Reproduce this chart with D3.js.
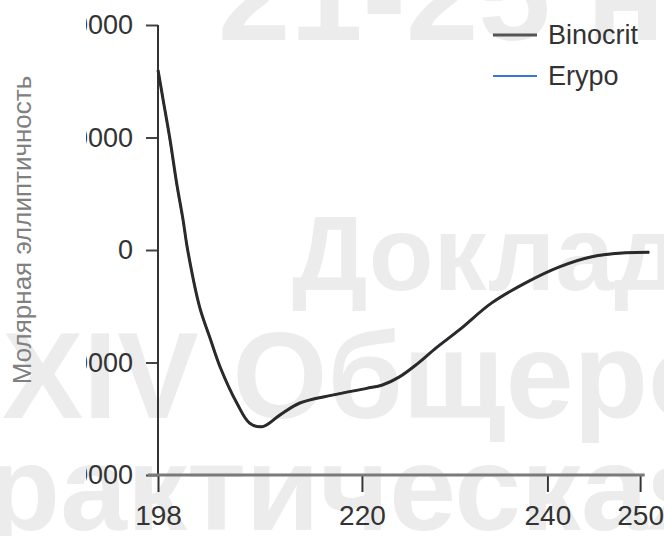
<!DOCTYPE html>
<html>
<head>
<meta charset="utf-8">
<script src="https://cdn.jsdelivr.net/npm/d3@7"></script>
<style>
  body { margin: 0; background: #fff; }
  svg { display: block; font-family: "Liberation Sans", Arial, sans-serif; }
</style>
</head>
<body>
<div id="chart"></div>
<script>
// wavelength (nm)
let wavelengths = [198, 198.5, 199.3, 200, 200.7, 201.2, 202.5, 203.6, 204.7, 206.5, 207.9, 209.3,
                   211.1, 213.3, 216.8, 220.5, 222.2, 224, 226, 228, 230.5, 234, 237.7, 241.3, 244.8, 248.5, 251];
// molar ellipticity, the two curves overlap almost everywhere
let binocrit = [16000, 13600, 9800, 6000, 2700, 0, -5100, -7800, -10400, -13600, -15400, -15700,
                -14700, -13600, -12900, -12300, -12000, -11300, -10100, -8700, -7100, -4700, -2900, -1500, -600, -250, -200];
let erypo    = [16000, 13600, 9700, 5900, 2600, 0, -5100, -7800, -10400, -13600, -15400, -15700,
                -14700, -13600, -12900, -12300, -12000, -11300, -10100, -8700, -7100, -4700, -2900, -1500, -600, -250, -200];

let xTicks = [198, 220, 240, 250];
let yTicks = [-20000, -10000, 0, 10000, 20000];
let seriesNames = ["Binocrit", "Erypo"];
let seriesColors = ["#2a2a2a", "#3b78d4"];

// faint watermark that sits behind the chart
let watermark = [
  { text: "21-25 ноября", x: 218, y: 40, size: 130 },
  { text: "Доклад", x: 292, y: 290, size: 106 },
  { text: "XIV Общероссийская", x: 2, y: 418, size: 122 },
  { text: "научно-практическая", x: -547, y: 530, size: 120 }
];

function loadChart() {
  let svgWidth = 664;
  let svgHeight = 536;

  let svg = d3.select("#chart")
    .append("svg")
    .attr("width", svgWidth)
    .attr("height", svgHeight);

  svg.append("g").selectAll("text")
    .data(watermark)
    .enter()
    .append("text")
    .attr("x", d => d.x)
    .attr("y", d => d.y)
    .attr("font-size", d => d.size + "px")
    .attr("font-weight", "bold")
    .attr("fill", "#ececec")
    .text(d => d.text);

  // scales
  let x = d3.scaleLinear()
    .domain([198, 251.5])
    .range([158, 654]);

  let y = d3.scaleLinear()
    .domain([-20000, 20000])
    .range([475, 25]);

  // the left part of the y tick labels is cut off in the original
  svg.append("clipPath")
    .attr("id", "labclip")
    .append("rect")
    .attr("x", 86).attr("y", 0)
    .attr("width", svgWidth).attr("height", svgHeight);

  // y axis
  let yAxis = d3.axisLeft(y)
    .tickValues(yTicks)
    .tickSize(12)
    .tickPadding(13)
    .tickFormat(d3.format("d"));

  let gy = svg.append("g")
    .attr("clip-path", "url(#labclip)")
    .append("g")
    .attr("transform", "translate(158,0)")
    .call(yAxis);
  gy.select(".domain").remove();
  gy.selectAll(".tick line").attr("stroke", "#444").attr("stroke-width", 2);
  gy.selectAll(".tick text")
    .attr("font-size", "27px")
    .attr("fill", "#333")
    .attr("font-family", "Liberation Sans, Arial, sans-serif");

  svg.append("line")
    .attr("x1", 158).attr("x2", 158)
    .attr("y1", y(20000)).attr("y2", y(-20000))
    .attr("stroke", "#333")
    .attr("stroke-width", 2);

  // x axis
  let xAxis = d3.axisBottom(x)
    .tickValues(xTicks)
    .tickSize(17)
    .tickPadding(13)
    .tickFormat(d3.format("d"));

  let gx = svg.append("g")
    .attr("transform", `translate(0,${y(-20000)})`)
    .call(xAxis);
  gx.select(".domain").remove();
  gx.selectAll(".tick line").attr("stroke", "#333").attr("stroke-width", 2);
  gx.selectAll(".tick text")
    .attr("font-size", "28px")
    .attr("fill", "#333")
    .attr("font-family", "Liberation Sans, Arial, sans-serif");

  svg.append("line")
    .attr("x1", x(196.9)).attr("x2", x(250.5))
    .attr("y1", y(-20000)).attr("y2", y(-20000))
    .attr("stroke", "#7a7a7a")
    .attr("stroke-width", 3);

  // y axis title
  svg.append("text")
    .attr("transform", "translate(31,230) rotate(-90)")
    .attr("text-anchor", "middle")
    .attr("font-size", "26px")
    .attr("fill", "#808080")
    .text("Молярная эллиптичность");

  // curves, Erypo under Binocrit
  let line = d3.line()
    .x((d, i) => x(wavelengths[i]))
    .y(d => y(d))
    .curve(d3.curveCatmullRom.alpha(0.5));

  svg.append("path")
    .datum(erypo)
    .attr("d", line)
    .attr("fill", "none")
    .attr("stroke", seriesColors[1])
    .attr("stroke-width", 2);

  svg.append("path")
    .datum(binocrit)
    .attr("d", line)
    .attr("fill", "none")
    .attr("stroke", seriesColors[0])
    .attr("stroke-width", 3);

  // legend
  let legend = svg.append("g")
    .selectAll("g")
    .data(seriesNames)
    .enter()
    .append("g")
    .attr("transform", (d, i) => `translate(493,${35 + i * 41})`);

  legend.append("line")
    .attr("x1", 0).attr("x2", 44)
    .attr("stroke", (d, i) => i === 0 ? "#555" : seriesColors[1])
    .attr("stroke-width", (d, i) => i === 0 ? 3 : 2);

  legend.append("text")
    .attr("x", 55)
    .attr("dy", "0.35em")
    .attr("font-size", "27px")
    .attr("fill", "#333")
    .text(d => d);
}

loadChart();
</script>
</body>
</html>
